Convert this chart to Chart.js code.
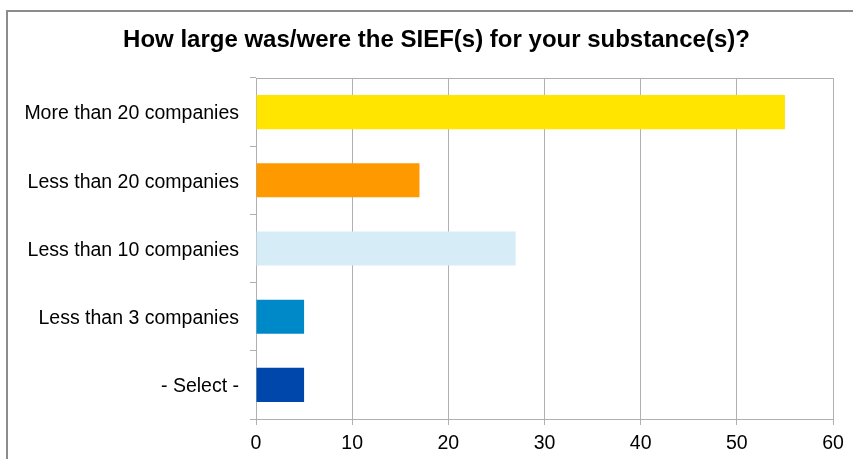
<!DOCTYPE html>
<html>
<head>
<meta charset="utf-8">
<script src="https://cdn.jsdelivr.net/npm/chart.js@4/dist/chart.umd.min.js"></script>
<style>
  html, body { margin: 0; padding: 0; background: #fff; overflow: hidden; }
  #wrap { position: relative; width: 853px; height: 459px; }
  #frame { position: absolute; left: 6px; top: 10px; width: 900px; height: 500px;
           border-left: 2px solid #8c8c8c; border-top: 2px solid #8c8c8c; }
  canvas { position: absolute; left: 0; top: 0; }
</style>
</head>
<body>
<div id="wrap">
  <div id="frame"></div>
  <canvas id="c" width="853" height="459"></canvas>
</div>
<script>
const categories = ["More than 20 companies", "Less than 20 companies", "Less than 10 companies", "Less than 3 companies", "- Select -"];
const values = [55, 17, 27, 5, 5];
const barColors = ["#FFE500", "#FF9900", "#D6EDF8", "#0089C9", "#0047AB"];
const titleText = "How large was/were the SIEF(s) for your substance(s)?";

const topBorder = {
  id: 'topBorder',
  afterLayout(chart) {
    // shift the title box so it centres like the reference
    if (chart.titleBlock) chart.titleBlock.left = 40;
  },
  afterDraw(chart) {
    const a = chart.chartArea, ctx = chart.ctx;
    ctx.save();
    ctx.strokeStyle = '#b0b0b0';
    ctx.lineWidth = 1;
    ctx.beginPath();
    ctx.moveTo(a.left, Math.round(a.top) + 0.5);
    ctx.lineTo(a.right, Math.round(a.top) + 0.5);
    ctx.stroke();
    ctx.restore();
  }
};

const FONT = 'Liberation Sans, Arial, sans-serif';

new Chart(document.getElementById('c'), {
  type: 'bar',
  data: {
    labels: categories,
    datasets: [{
      data: values,
      backgroundColor: barColors,
      borderWidth: 0,
      categoryPercentage: 1.0,
      barPercentage: 0.5
    }]
  },
  options: {
    indexAxis: 'y',
    responsive: false,
    animation: false,
    layout: { padding: { left: 0, right: 20, top: 0, bottom: 0 } },
    plugins: {
      legend: { display: false },
      tooltip: { enabled: false },
      title: {
        display: true,
        text: titleText,
        color: '#000',
        font: { family: FONT, size: 24, weight: 'bold', lineHeight: 1.2 },
        padding: { top: 26, bottom: 23.2 }
      }
    },
    scales: {
      x: {
        min: 0, max: 60,
        ticks: { stepSize: 10, color: '#000', padding: 7,
                 font: { family: FONT, size: 19.5 } },
        grid: { color: '#b0b0b0', tickLength: 6, drawTicks: true },
        border: { color: '#b0b0b0' },
        afterFit(s) { s.height = 40; }
      },
      y: {
        ticks: { color: '#000', padding: 11, labelOffset: 2,
                 font: { family: FONT, size: 19.5 } },
        grid: { drawOnChartArea: false, color: '#b0b0b0', tickLength: 6, offset: true },
        border: { color: '#b0b0b0' },
        afterFit(s) { s.width = 256; }
      }
    }
  },
  plugins: [topBorder]
});
</script>
</body>
</html>
